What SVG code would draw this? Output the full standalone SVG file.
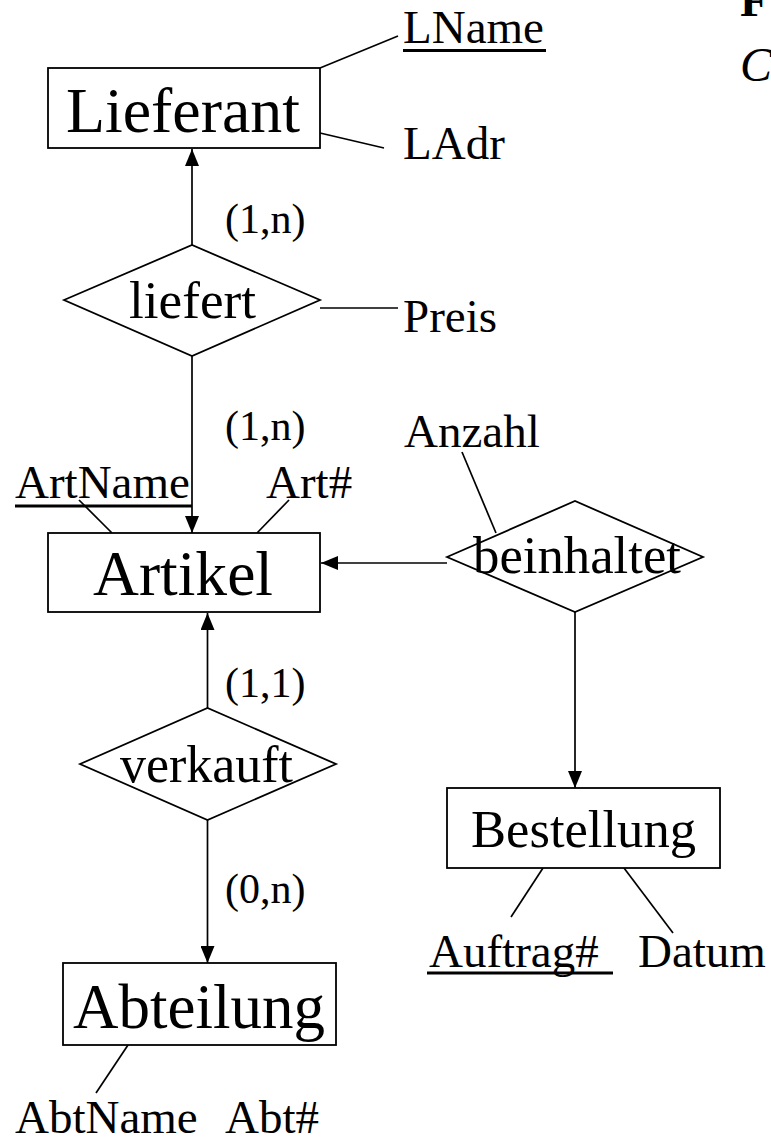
<svg xmlns="http://www.w3.org/2000/svg" width="771" height="1139" viewBox="0 0 771 1139">
<style>
  .box { fill: #ffffff; stroke: #000000; stroke-width: 1.8; }
  .ln { stroke: #000000; stroke-width: 1.7; fill: none; }
  .ul { stroke: #000000; stroke-width: 2.8; }
  .ent { font-family: "Liberation Serif", "Times New Roman", serif; font-size: 64px; fill: #000; }
  .rel { font-family: "Liberation Serif", "Times New Roman", serif; font-size: 52px; fill: #000; }
  .att { font-family: "Liberation Serif", "Times New Roman", serif; font-size: 47px; fill: #000; }
  .card { font-family: "Liberation Serif", "Times New Roman", serif; font-size: 42px; fill: #000; }
</style>
<defs>
  <marker id="arr" markerUnits="userSpaceOnUse" markerWidth="17" markerHeight="14" refX="17" refY="7" orient="auto">
    <path d="M0,0 L17,7 L0,14 z" fill="#000000"/>
  </marker>
</defs>
<rect width="771" height="1139" fill="#ffffff"/>

<g id="connectors">
  <line class="ln" x1="192" y1="245" x2="192" y2="149" marker-end="url(#arr)"/>
  <line class="ln" x1="192" y1="356" x2="192" y2="533" marker-end="url(#arr)"/>
  <line class="ln" x1="447" y1="563" x2="321" y2="563" marker-end="url(#arr)"/>
  <line class="ln" x1="575" y1="612" x2="575" y2="788" marker-end="url(#arr)"/>
  <line class="ln" x1="207.5" y1="708" x2="207.5" y2="613" marker-end="url(#arr)"/>
  <line class="ln" x1="207.5" y1="820" x2="207.5" y2="963" marker-end="url(#arr)"/>
  <line class="ln" x1="320" y1="68" x2="398" y2="36"/>
  <line class="ln" x1="320" y1="133" x2="384" y2="148"/>
  <line class="ln" x1="320" y1="308" x2="398" y2="308"/>
  <line class="ln" x1="79" y1="500" x2="112" y2="533"/>
  <line class="ln" x1="289" y1="500" x2="257" y2="533"/>
  <line class="ln" x1="462" y1="452" x2="496" y2="533"/>
  <line class="ln" x1="543" y1="868" x2="511" y2="917"/>
  <line class="ln" x1="624" y1="868" x2="673" y2="933"/>
  <line class="ln" x1="128" y1="1045" x2="96" y2="1093"/>
</g>

<g id="Lieferant">
  <rect class="box" x="48" y="68" width="272" height="80"/>
  <text class="ent" x="66" y="132" textLength="234" lengthAdjust="spacingAndGlyphs">Lieferant</text>
</g>
<g id="liefert">
  <polygon class="box" points="64,300 192,245 320,300 192,356"/>
  <text class="rel" x="129" y="318" textLength="127" lengthAdjust="spacingAndGlyphs">liefert</text>
</g>
<g id="Artikel">
  <rect class="box" x="48" y="533" width="272" height="79"/>
  <text class="ent" x="93" y="595" textLength="180" lengthAdjust="spacingAndGlyphs">Artikel</text>
</g>
<g id="beinhaltet">
  <polygon class="box" points="447,557 575,501 703,557 575,612"/>
  <text class="rel" x="473" y="573" textLength="208" lengthAdjust="spacingAndGlyphs">beinhaltet</text>
</g>
<g id="verkauft">
  <polygon class="box" points="80,764 207.5,708 336,764 207.5,820"/>
  <text class="rel" x="120" y="782" textLength="173" lengthAdjust="spacingAndGlyphs">verkauft</text>
</g>
<g id="Abteilung">
  <rect class="box" x="63" y="963" width="273" height="82"/>
  <text class="ent" x="73" y="1028" textLength="252" lengthAdjust="spacingAndGlyphs">Abteilung</text>
</g>
<g id="Bestellung">
  <rect class="box" x="447" y="788" width="273" height="80"/>
  <text class="rel" x="471" y="847" textLength="225" lengthAdjust="spacingAndGlyphs">Bestellung</text>
</g>

<g id="attributes">
  <text class="att" x="403" y="43">LName</text>
  <line class="ul" x1="403" y1="50.5" x2="546" y2="50.5"/>
  <text class="att" x="403" y="159">LAdr</text>
  <text class="att" x="403" y="332">Preis</text>
  <text class="att" x="404" y="447">Anzahl</text>
  <text class="att" x="15" y="498">ArtName</text>
  <line class="ul" x1="15" y1="506" x2="192" y2="506"/>
  <text class="att" x="266" y="498">Art#</text>
  <text class="att" x="429" y="967">Auftrag#</text>
  <line class="ul" x1="427" y1="973" x2="613" y2="973"/>
  <text class="att" x="638" y="967">Datum</text>
  <text class="att" x="15" y="1133">AbtName</text>
  <text class="att" x="225" y="1133">Abt#</text>
</g>

<g id="cardinalities">
  <text class="card" x="225" y="233">(1,n)</text>
  <text class="card" x="225" y="440">(1,n)</text>
  <text class="card" x="225" y="697">(1,1)</text>
  <text class="card" x="225" y="903">(0,n)</text>
</g>

<g id="title-fragment">
  <text x="740" y="16" font-family="Liberation Serif, Times New Roman, serif" font-size="47" font-weight="bold">F</text>
  <text x="740" y="81" font-family="Liberation Serif, Times New Roman, serif" font-size="48" font-style="italic">C</text>
</g>
</svg>
